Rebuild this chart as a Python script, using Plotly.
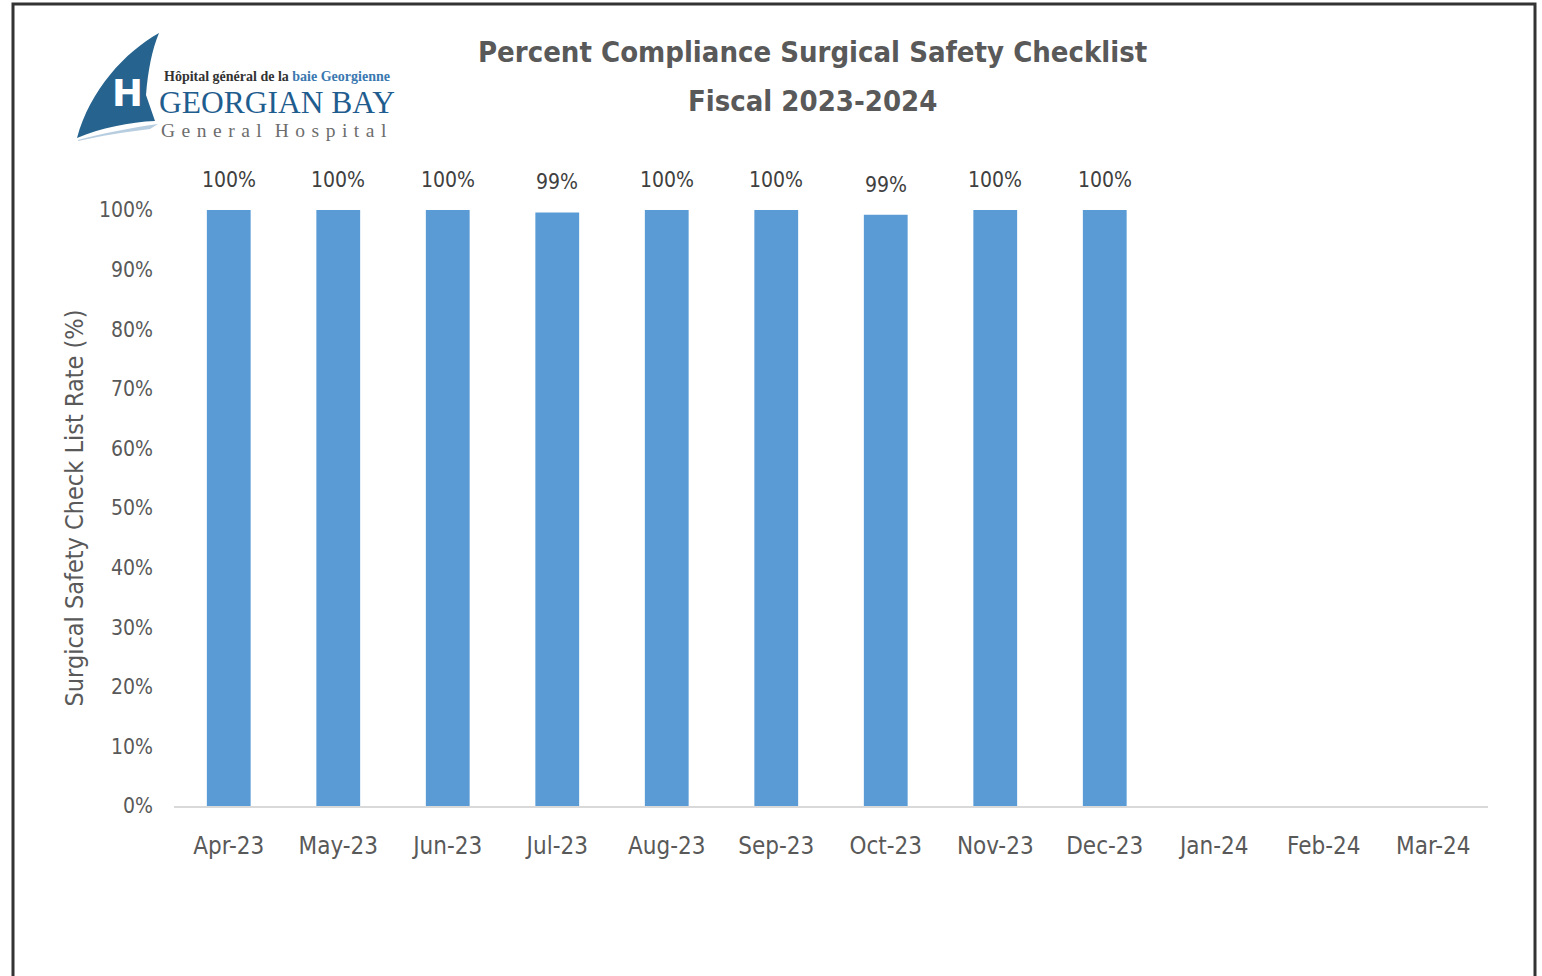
import plotly.graph_objects as go

# ---- data ----
months = ["Apr-23", "May-23", "Jun-23", "Jul-23", "Aug-23", "Sep-23",
          "Oct-23", "Nov-23", "Dec-23", "Jan-24", "Feb-24", "Mar-24"]
compliance = [100, 100, 100, 99.6, 100, 100, 99.2, 100, 100, None, None, None]
value_labels = ["100%", "100%", "100%", "99%", "100%", "100%", "99%", "100%", "100%", "", "", ""]
y_ticks = [0, 10, 20, 30, 40, 50, 60, 70, 80, 90, 100]
y_tick_labels = [f"{v}%" for v in y_ticks]

title_line1 = "Percent Compliance Surgical Safety Checklist"
title_line2 = "Fiscal 2023-2024"
y_title = "Surgical Safety Check List Rate (%)"

# ---- geometry (page pixels) ----
W, H = 1542, 976
L, R, T, B = 174, 1488, 210, 806
PW, PH = R - L, B - T


def px(x):
    return (x - L) / PW


def py(y):
    return (B - y) / PH


FONT = "Liberation Sans Narrow, DejaVu Sans Condensed, Arial Narrow, sans-serif"
GRAY = "#595959"
BAR = "#5b9bd5"

fig = go.Figure()
fig.add_trace(go.Bar(
    x=months, y=compliance, marker=dict(color=BAR, line=dict(width=0)),
    width=0.4, hoverinfo="x+y",
))

annotations = []
for m, v, lab in zip(months, compliance, value_labels):
    if v is None:
        continue
    annotations.append(dict(
        x=m, y=v, xref="x", yref="y", text=lab, showarrow=False,
        yanchor="bottom", yshift=16,
        font=dict(family=FONT, size=21, color="#404040"),
    ))

# titles
annotations.append(dict(x=px(812), y=py(52), xref="paper", yref="paper", text=f"<b>{title_line1}</b>",
                        showarrow=False, xanchor="center", yanchor="middle",
                        font=dict(family=FONT, size=29, color=GRAY)))
annotations.append(dict(x=px(812), y=py(101), xref="paper", yref="paper", text=f"<b>{title_line2}</b>",
                        showarrow=False, xanchor="center", yanchor="middle",
                        font=dict(family=FONT, size=29, color=GRAY)))

# logo texts
SERIF = "Liberation Serif, DejaVu Serif, serif"
SP = "\u2004"
annotations.append(dict(x=px(162), y=py(77), xref="paper", yref="paper",
                        text="<b>Hôpital général de la <span style='color:#3a78b0'>baie Georgienne</span></b>",
                        showarrow=False, xanchor="left", yanchor="middle",
                        font=dict(family=SERIF, size=14, color="#333333")))
annotations.append(dict(x=px(157), y=py(103), xref="paper", yref="paper",
                        text="GEORGIAN BAY",
                        showarrow=False, xanchor="left", yanchor="middle",
                        font=dict(family=SERIF, size=31.5, color="#1f5d8f")))
annotations.append(dict(x=px(159), y=py(130), xref="paper", yref="paper",
                        text=SP.join("General") + SP * 2 + SP.join("Hospital"),
                        showarrow=False, xanchor="left", yanchor="middle",
                        font=dict(family=SERIF, size=19.5, color="#6d6d6d")))
annotations.append(dict(x=px(127), y=py(94), xref="paper", yref="paper",
                        text="<b>H</b>",
                        showarrow=False, xanchor="center", yanchor="middle",
                        font=dict(family="DejaVu Sans, sans-serif", size=37, color="white")))


def path(points):
    s = ""
    for cmd, pts in points:
        s += cmd + " " + " ".join(f"{px(a):.5f},{py(b):.5f}" for a, b in pts) + " "
    return s + "Z"


sail = path([("M", [(159, 33)]),
             ("C", [(125, 52), (90, 90), (77, 138)]),
             ("C", [(100, 128), (130, 122), (155, 121)]),
             ("L", [(146, 95)]),
             ("C", [(148, 70), (152, 50), (159, 33)])])
swoosh = path([("M", [(78, 140)]),
               ("C", [(100, 134), (130, 128), (158, 124)]),
               ("L", [(150, 129)]),
               ("C", [(125, 132), (100, 136), (78, 141)])])

shapes = [
    dict(type="path", path=sail, xref="paper", yref="paper",
         fillcolor="#26648f", line=dict(width=0), layer="below"),
    dict(type="path", path=swoosh, xref="paper", yref="paper",
         fillcolor="#b7cde0", line=dict(width=0), layer="below"),
    # outer frame
    dict(type="rect", xref="paper", yref="paper",
         x0=px(13), x1=px(1535), y0=py(1000), y1=py(4),
         line=dict(color="#333333", width=3), fillcolor="rgba(0,0,0,0)"),
]

fig.update_layout(
    width=W, height=H,
    margin=dict(l=L, r=W - R, t=T, b=H - B, pad=0),
    paper_bgcolor="white", plot_bgcolor="white",
    showlegend=False,
    annotations=annotations, shapes=shapes,
    bargap=0.6,
    font=dict(family=FONT, color=GRAY),
)
fig.update_xaxes(
    type="category", categoryorder="array", categoryarray=months,
    showline=True, linecolor="#d9d9d9", linewidth=2, showgrid=False,
    ticks="", ticklabelstandoff=17,
    tickfont=dict(family=FONT, size=24, color=GRAY),
    range=[-0.5, 11.5], fixedrange=True,
)
fig.update_yaxes(
    range=[0, 100], tickvals=y_ticks, ticktext=y_tick_labels,
    showgrid=False, zeroline=False, showline=False, ticks="",
    ticklabelstandoff=20,
    tickfont=dict(family=FONT, size=21, color=GRAY),
    title=dict(text=y_title, font=dict(family=FONT, size=25, color=GRAY), standoff=8),
    fixedrange=True,
)

fig.write_html("out.html",
               config={"displayModeBar": False},
               post_script="document.body.style.margin='0';document.body.style.overflow='hidden';")
